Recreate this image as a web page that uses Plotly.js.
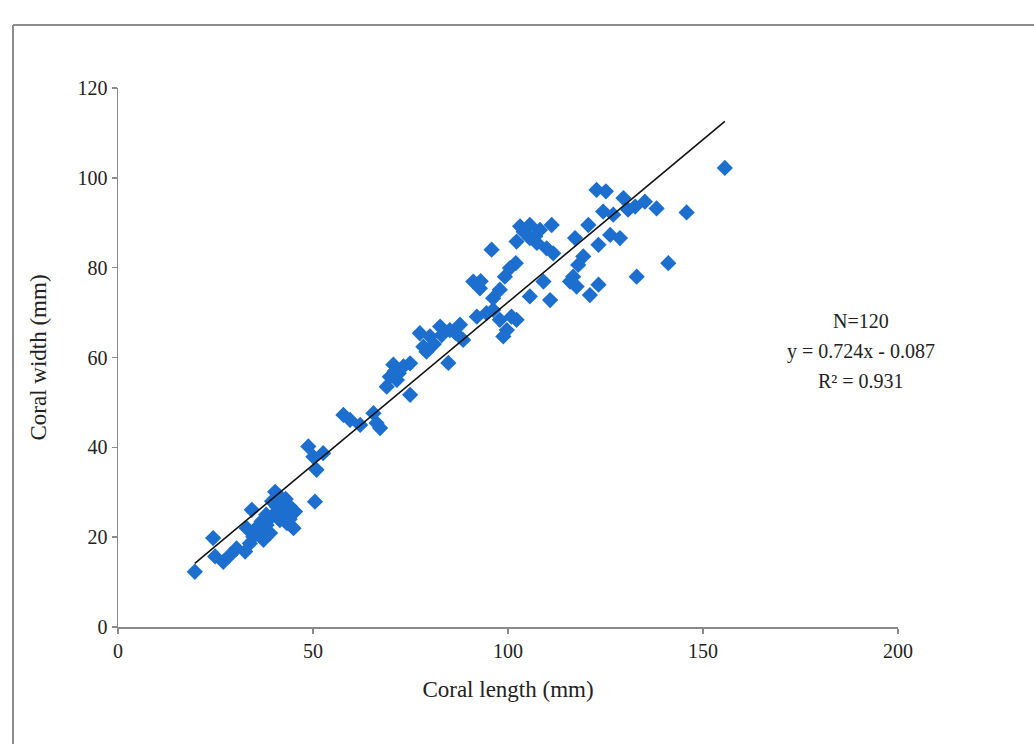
<!DOCTYPE html>
<html>
<head>
<meta charset="utf-8">
<script src="https://cdn.plot.ly/plotly-3.0.1.min.js"></script>
<style>html,body{margin:0;padding:0;background:#fff;}#chart{width:1034px;height:744px;}</style>
</head>
<body>
<div id="chart"></div>
<script>
// Coral length (mm)
const coralLength = [
  19.7, 24.4, 24.9, 27.0, 28.7, 30.4, 32.6, 33.8, 34.7, 36.4,
  38.1, 34.3, 36.8, 39.4, 41.5, 43.3, 40.7, 42.4, 44.1, 45.4,
  40.3, 41.5, 45.0, 39.0, 37.3, 50.5, 48.8, 50.1, 50.9, 52.6,
  57.8, 59.5, 62.1, 65.5, 66.3, 67.2, 69.7, 68.9, 71.5, 74.9,
  70.6, 73.2, 74.9, 78.3, 79.1, 84.7, 77.4, 80.0, 82.6, 85.1,
  87.7, 88.5, 92.0, 94.5, 96.2, 97.9, 99.7, 100.9, 102.2, 98.8,
  91.1, 92.8, 100.5, 99.2, 97.9, 96.2, 109.1, 105.6, 110.8, 95.8,
  103.1, 105.6, 108.2, 111.2, 102.2, 105.6, 107.4, 109.9, 111.6, 115.9,
  122.7, 125.1, 129.6, 135.1, 138.1, 132.6, 130.8, 145.8, 124.4, 127.0,
  120.6, 117.2, 123.2, 126.2, 128.7, 119.3, 118.0, 116.7, 117.6, 123.2,
  133.0, 141.1, 155.6, 38.0, 42.0, 44.0, 36.0, 33.0, 72.0, 71.0,
  81.0, 83.0, 104.0, 107.0, 93.0, 102.0, 39.5, 43.0, 121.0, 86.5
];
// Coral width (mm)
const coralWidth = [
  12.3, 19.8, 15.7, 14.5, 16.0, 17.5, 16.8, 18.6, 20.1, 21.6,
  22.7, 26.1, 23.5, 24.6, 23.8, 23.1, 26.8, 27.9, 26.8, 25.7,
  30.1, 29.0, 22.0, 20.9, 19.4, 27.9, 40.2, 37.9, 35.0, 38.7,
  47.2, 46.1, 45.0, 47.6, 45.4, 44.3, 55.7, 53.5, 55.0, 51.7,
  58.4, 58.0, 58.7, 62.4, 61.3, 58.8, 65.4, 64.7, 66.9, 66.1,
  67.3, 63.9, 69.1, 69.9, 70.6, 68.4, 66.1, 69.1, 68.4, 64.7,
  76.9, 75.4, 79.9, 78.0, 75.1, 73.2, 76.9, 73.6, 72.8, 84.0,
  89.2, 89.5, 88.4, 89.5, 85.8, 86.6, 85.5, 84.3, 83.2, 76.9,
  97.3, 97.0, 95.5, 94.7, 93.2, 93.6, 92.9, 92.3, 92.5, 91.8,
  89.5, 86.6, 85.1, 87.3, 86.6, 82.5, 80.6, 78.0, 75.8, 76.2,
  78.0, 81.0, 102.2, 25.0, 25.5, 24.0, 22.5, 22.0, 56.5, 57.0,
  63.0, 65.0, 88.0, 87.0, 77.0, 81.0, 28.0, 28.5, 73.9, 65.5
];
const xTicks = [0, 50, 100, 150, 200];
const yTicks = [0, 20, 40, 60, 80, 100, 120];
const fitSlope = 0.724;
const fitIntercept = -0.087;
const statLines = ["N=120", "y = 0.724x - 0.087", "R\u00b2 = 0.931"];

const xMin = Math.min(...coralLength), xMax = Math.max(...coralLength);
const fitX = [xMin, xMax];
const fitY = fitX.map(v => fitSlope * v + fitIntercept);

const fam = "Liberation Serif, Times New Roman, serif";
const tickFont = {family: fam, color: "#222", size: 20};
const titleFont = {family: fam, color: "#222", size: 23};
const noteFont = {family: fam, color: "#222", size: 20};
const axisColor = "#8a8a8a";

const data = [
  {x: coralLength, y: coralWidth, type: "scatter", mode: "markers",
   marker: {symbol: "diamond", size: 12.5, color: "#1d6fcf", line: {width: 0}},
   showlegend: false, hoverinfo: "x+y"},
  {x: fitX, y: fitY, type: "scatter", mode: "lines",
   line: {color: "#111", width: 1.6}, showlegend: false, hoverinfo: "skip"}
];

const layout = {
  width: 1034, height: 744,
  margin: {l: 118, r: 136, t: 88, b: 117},
  paper_bgcolor: "#fff", plot_bgcolor: "#fff",
  font: tickFont,
  xaxis: {range: [0, 200], tickvals: xTicks, ticktext: xTicks.map(String),
    showgrid: false, zeroline: false, showline: true, linecolor: axisColor, linewidth: 1.5,
    ticks: "outside", ticklen: 5, tickcolor: axisColor, tickwidth: 1.5,
    tickfont: tickFont, title: {text: "Coral length (mm)", font: titleFont, standoff: 20}, automargin: false},
  yaxis: {range: [0, 120], tickvals: yTicks, ticktext: yTicks.map(String),
    showgrid: false, zeroline: false, showline: true, linecolor: axisColor, linewidth: 1.5,
    ticks: "outside", ticklen: 5, tickcolor: axisColor, tickwidth: 1.5,
    tickfont: tickFont, title: {text: "Coral width (mm)", font: titleFont, standoff: 24}, automargin: false},
  annotations: statLines.map((t, i) => ({
    xref: "paper", yref: "paper", x: 0.952, y: (627 - 321 - i * 30) / 539,
    xanchor: "center", yanchor: "middle", text: t, showarrow: false, font: noteFont
  })),
  shapes: [
    {type: "line", xref: "paper", yref: "paper", x0: -0.1346, x1: 1.18, y0: 1.117, y1: 1.117,
     line: {color: "#8c8c8c", width: 2}},
    {type: "line", xref: "paper", yref: "paper", x0: -0.1346, x1: -0.1346, y0: 1.117, y1: -0.22,
     line: {color: "#8c8c8c", width: 2}}
  ]
};

Plotly.newPlot("chart", data, layout, {displayModeBar: false, staticPlot: true});
</script>
</body>
</html>
